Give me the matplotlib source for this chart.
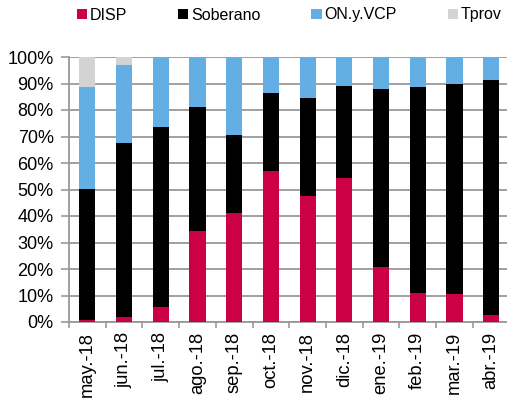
import numpy as np
import matplotlib
matplotlib.use("Agg")
import matplotlib.pyplot as plt
from matplotlib.ticker import FixedLocator, PercentFormatter
from matplotlib.patches import Patch

plt.rcParams['font.family'] = ['Liberation Sans', 'DejaVu Sans']

# --- datos (porcentaje acumulado) ---
meses = ["may.-18", "jun.-18", "jul.-18", "ago.-18", "sep.-18", "oct.-18",
         "nov.-18", "dic.-18", "ene.-19", "feb.-19", "mar.-19", "abr.-19"]
disp = [0.9, 1.9, 5.7, 34.4, 41.1, 57.0, 47.7, 54.5, 20.7, 11.1, 10.5, 2.5]
soberano = [49.2, 65.8, 67.7, 46.8, 29.4, 29.5, 36.8, 34.4, 67.4, 77.6, 79.4, 88.9]
on_vcp = [38.4, 29.4, 26.6, 18.8, 29.5, 13.5, 15.5, 11.1, 11.9, 11.3, 10.1, 8.6]
tprov = [11.5, 2.9, 0, 0, 0, 0, 0, 0, 0, 0, 0, 0]

series = [("DISP", disp, "#CC0044"),
          ("Soberano", soberano, "#000000"),
          ("ON.y.VCP", on_vcp, "#63AEE3"),
          ("Tprov", tprov, "#D3D3D3")]

W, H = 507, 403
fig = plt.figure(figsize=(W / 100, H / 100), dpi=100)
fig.patch.set_facecolor("white")

# ejes en coordenadas de pixel
left, right, top, bottom = 69, 509.5, 57, 322
ax = fig.add_axes([left / W, 1 - bottom / H, (right - left) / W, (bottom - top) / H])

x = np.arange(len(meses))
base = np.zeros(len(meses))
for nombre, vals, color in series:
    vals = np.array(vals, dtype=float)
    ax.bar(x, vals, bottom=base, width=0.44, color=color, label=nombre, zorder=3)
    base += vals

ax.set_xlim(-0.5, len(meses) - 0.5)
ax.set_ylim(0, 100)
ax.set_yticks(np.arange(0, 101, 10))
ax.yaxis.set_major_formatter(PercentFormatter(decimals=0))
ax.grid(axis='y', color='#999999', linewidth=1.3, zorder=0)

ax.set_xticks(x)
ax.set_xticklabels(meses, rotation=90)
ax.xaxis.set_minor_locator(FixedLocator(np.arange(-0.5, len(meses), 1)))
ax.tick_params(axis='x', which='major', length=0, pad=7, labelsize=13.2)
ax.tick_params(axis='x', which='minor', length=4, color='#999999', width=1.2)
ax.tick_params(axis='y', length=6, color='#999999', width=1.2, labelsize=13, pad=5)

for s in ['top', 'right']:
    ax.spines[s].set_visible(False)
for s in ['left', 'bottom']:
    ax.spines[s].set_color('#999999')
    ax.spines[s].set_linewidth(1.3)

handles = [Patch(facecolor=c, label=n) for n, _, c in series]
fig.legend(handles=handles, loc='center', bbox_to_anchor=(0.57, 1 - 15 / H), ncol=4,
           frameon=False, fontsize=11.5, handlelength=0.65, handleheight=0.65,
           handletextpad=0.15, columnspacing=3.2, borderaxespad=0)

plt.savefig("out.png", dpi=100)
plt.close()
